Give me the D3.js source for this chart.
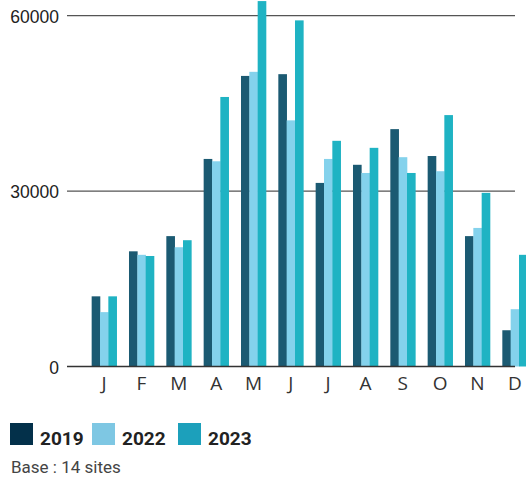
<!DOCTYPE html>
<html><head><meta charset="utf-8">
<script src="https://cdn.jsdelivr.net/npm/d3@7"></script>
<style>body{margin:0;background:#fff;} svg{display:block;font-family:Roboto, sans-serif;}</style>
</head><body>
<svg id="c" width="526" height="477"></svg>
<script>
const months = ["J","F","M","A","M","J","J","A","S","O","N","D"];
const years = ["2019","2022","2023"];
const v2019 = [12000,19700,22300,35500,49700,50000,31400,34500,40600,36000,22300,6200];
const v2022 = [9300,19100,20400,35100,50400,42100,35500,33100,35800,33400,23700,9800];
const v2023 = [12000,18900,21600,46100,62500,59200,38600,37400,33100,43000,29700,19100];
const yTicks = [0,30000,60000];
const legendLabel = "Base : 14 sites";

const barColors = ["#1b5a72","#84d2ec","#1fb3c3"];
const legendColors = ["#03304a","#7ec7e3","#1ca0bb"];
const series = [v2019,v2022,v2023];

const svg = d3.select("#c");
const idx = d3.range(months.length);
const x = d3.scaleBand().domain(idx).range([85.5,533.5]).paddingInner(0.33).paddingOuter(0.165);
const xs = d3.scaleBand().domain(d3.range(3)).range([0,x.bandwidth()]);
const y = d3.scaleLinear().domain([0,60000]).range([366.5,15.7]);

// gridlines
svg.append("g").selectAll("line").data(yTicks.filter(t=>t>0)).join("line")
  .attr("x1",67).attr("x2",515).attr("y1",d=>y(d)).attr("y2",d=>y(d))
  .attr("stroke","#555").attr("stroke-width",1.2);

// bars
series.forEach((s,si)=>{
  svg.append("g").selectAll("rect").data(s).join("rect")
    .attr("x",(d,i)=>x(i)+xs(si)).attr("width",xs.bandwidth()+0.3)
    .attr("y",d=>y(d)).attr("height",d=>y(0)-y(d))
    .attr("fill",barColors[si]);
});

// baseline
svg.append("line").attr("x1",67).attr("x2",515).attr("y1",y(0)).attr("y2",y(0))
  .attr("stroke","#333").attr("stroke-width",1.5);

// y labels
svg.append("g").selectAll("text").data(yTicks).join("text")
  .attr("x",59).attr("y",d=>y(d)+2.5).attr("text-anchor","end").attr("dominant-baseline","middle")
  .attr("font-family","'Liberation Sans', Arial, sans-serif")
  .attr("font-size",17.5).attr("fill","#222").text(d=>d);

// x labels
svg.append("g").selectAll("text").data(idx).join("text")
  .attr("x",i=>x(i)+x.bandwidth()/2).attr("y",390).attr("text-anchor","middle")
  .attr("font-family","'Open Sans', sans-serif")
  .attr("font-size",19).attr("fill","#333").text(i=>months[i]);

// legend
const lx = [10,92,178];
const lg = svg.append("g");
years.forEach((yr,i)=>{
  lg.append("rect").attr("x",lx[i]).attr("y",423).attr("width",23).attr("height",22).attr("fill",legendColors[i]);
  lg.append("text").attr("x",lx[i]+30).attr("y",445).attr("font-size",19).attr("font-weight","bold").attr("fill","#222").text(yr);
});
svg.append("text").attr("x",11).attr("y",473).attr("font-size",17).attr("fill","#444").text(legendLabel);
</script>
</body></html>
